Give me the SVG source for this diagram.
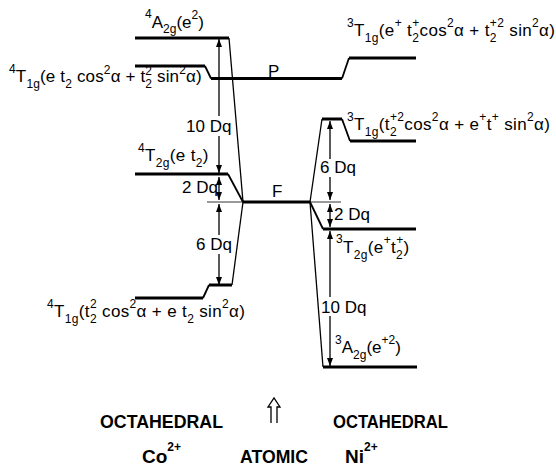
<svg xmlns="http://www.w3.org/2000/svg" width="556" height="472" viewBox="0 0 556 472">
<defs>
<style>
text{font-family:"Liberation Sans",Arial,sans-serif;fill:#000}
.m{font-size:17px}
.w{letter-spacing:0.35px}
.s{font-size:12px}
.dq{font-size:17px}
.b{font-size:19px;font-weight:bold}
.bs{font-size:12px;font-weight:bold}
.lv{stroke:#000;stroke-width:3;fill:none;stroke-linejoin:round}
.sl{stroke:#000;stroke-width:1.8;fill:none}
.cn{stroke:#000;stroke-width:1.3;fill:none}
.ar{stroke:#000;stroke-width:1.3;fill:none;marker-end:url(#ah)}
.ar2{stroke:#000;stroke-width:1.3;fill:none;marker-end:url(#ah);marker-start:url(#ahs)}
.th{stroke:#000;stroke-width:0.8;fill:none}
</style>
<marker id="ah" viewBox="0 0 8 6" refX="8" refY="3" markerWidth="8" markerHeight="6" markerUnits="userSpaceOnUse" orient="auto"><path d="M0,0 L8,3 L0,6 z" fill="#000"/></marker>
<marker id="ahs" viewBox="0 0 8 6" refX="8" refY="3" markerWidth="8" markerHeight="6" markerUnits="userSpaceOnUse" orient="auto-start-reverse"><path d="M0,0 L8,3 L0,6 z" fill="#000"/></marker>
</defs>
<rect width="556" height="472" fill="#fff"/>

<g id="co-4A2g">
<path class="lv" d="M135,38 H229"/>
<text class="m" x="145" y="28"><tspan class="s" y="18">4</tspan><tspan y="28">A</tspan><tspan class="s" y="33">2g</tspan><tspan y="28">(e</tspan><tspan class="s" y="19">2</tspan><tspan y="28">)</tspan></text>
</g>

<g id="co-4T1gP">
<path class="lv" d="M135,66 H205"/>
<path class="sl" d="M205,66 L211,78.5"/>
<text class="m" x="9" y="82" style="letter-spacing:0.15px"><tspan class="s" y="73">4</tspan><tspan y="82">T</tspan><tspan class="s" y="88">1g</tspan><tspan y="82">(e t</tspan><tspan class="s" y="88">2</tspan><tspan y="82"> cos</tspan><tspan class="s" y="74">2</tspan><tspan y="82">α + t</tspan><tspan class="s" y="88">2</tspan><tspan class="s" dx="-6.8" y="75">2</tspan><tspan y="82"> sin</tspan><tspan class="s" y="74">2</tspan><tspan y="82">α)</tspan></text>
</g>

<g id="atomic-P">
<path class="lv" d="M211,78.5 H342"/>
<text class="m" x="268" y="77">P</text>
</g>

<g id="ni-3T1gP">
<path class="sl" d="M342,78.5 L349,58"/>
<path class="lv" d="M349,58 H416"/>
<text class="m w" x="347" y="36"><tspan class="s" y="27">3</tspan><tspan y="36">T</tspan><tspan class="s" y="42">1g</tspan><tspan y="36">(e</tspan><tspan class="s" y="27">+</tspan><tspan y="36"> t</tspan><tspan class="s" y="42">2</tspan><tspan class="s" dx="-7" y="27">+</tspan><tspan y="36">cos</tspan><tspan class="s" y="27">2</tspan><tspan y="36">α + t</tspan><tspan class="s" y="42">2</tspan><tspan class="s" dx="-7" y="27">+2</tspan><tspan y="36"> sin</tspan><tspan class="s" y="27">2</tspan><tspan y="36">α)</tspan></text>
</g>

<g id="co-4T2g">
<path class="lv" d="M135,174 H228"/>
<path class="sl" d="M228,174 L243,202"/>
<text class="m w" x="138" y="161"><tspan class="s" y="152">4</tspan><tspan y="161">T</tspan><tspan class="s" y="167">2g</tspan><tspan y="161">(e t</tspan><tspan class="s" y="167">2</tspan><tspan y="161">)</tspan></text>
</g>

<g id="atomic-F">
<path class="lv" d="M243,202 H310"/>
<text class="m" x="272" y="197">F</text>
</g>

<g id="co-4T1gF">
<path class="lv" d="M135,298 H203"/>
<path class="sl" d="M203,298 L209,285"/>
<path class="lv" d="M209,285 H232"/>
<text class="m w" x="47" y="317"><tspan class="s" y="308">4</tspan><tspan y="317">T</tspan><tspan class="s" y="323">1g</tspan><tspan y="317">(t</tspan><tspan class="s" y="323">2</tspan><tspan class="s" dx="-7" y="308">2</tspan><tspan y="317"> cos</tspan><tspan class="s" y="308">2</tspan><tspan y="317">α + e t</tspan><tspan class="s" y="323">2</tspan><tspan y="317"> sin</tspan><tspan class="s" y="308">2</tspan><tspan y="317">α)</tspan></text>
</g>

<g id="ni-3T1gF">
<path class="lv" d="M322,119 H342"/>
<path class="sl" d="M342,119 L350,141"/>
<path class="lv" d="M350,141 H416"/>
<text class="m w" x="347" y="130"><tspan class="s" y="121">3</tspan><tspan y="130">T</tspan><tspan class="s" y="136">1g</tspan><tspan y="130">(t</tspan><tspan class="s" y="136">2</tspan><tspan class="s" dx="-7" y="121">+2</tspan><tspan y="130">cos</tspan><tspan class="s" y="121">2</tspan><tspan y="130">α + e</tspan><tspan class="s" y="121">+</tspan><tspan y="130">t</tspan><tspan class="s" y="121">+</tspan><tspan y="130"> sin</tspan><tspan class="s" y="121">2</tspan><tspan y="130">α)</tspan></text>
</g>

<g id="ni-3T2g">
<path class="sl" d="M310,202 L323,229"/>
<path class="lv" d="M323,229 H416"/>
<text class="m w" x="336" y="253"><tspan class="s" y="243">3</tspan><tspan y="253">T</tspan><tspan class="s" y="259">2g</tspan><tspan y="253">(e</tspan><tspan class="s" y="244">+</tspan><tspan y="253">t</tspan><tspan class="s" y="259">2</tspan><tspan class="s" dx="-7" y="244">+</tspan><tspan y="253">)</tspan></text>
</g>

<g id="ni-3A2g">
<path class="lv" d="M323,367 H417"/>
<text class="m" x="335" y="353"><tspan class="s" y="344">3</tspan><tspan y="353">A</tspan><tspan class="s" y="359">2g</tspan><tspan y="353">(e</tspan><tspan class="s" y="344">+2</tspan><tspan y="353">)</tspan></text>
</g>

<g id="connectors">
<path class="cn" d="M229,38 L243,202"/>
<path class="cn" d="M232,285 L243,202"/>
<path class="cn" d="M310,202 L322,119"/>
<path class="cn" d="M310,202 L323,367"/>
<path class="th" d="M207,202 H243"/>
<path class="th" d="M310,202 H341"/>
<path class="ar" d="M219,116 V39"/>
<path class="ar" d="M219,136 V173"/>
<path class="ar2" d="M219,177 V200"/>
<path class="ar" d="M219,235 V204"/>
<path class="ar" d="M219,254 V285"/>
<path class="ar" d="M330,159 V121"/>
<path class="ar" d="M330,177 V200"/>
<path class="ar2" d="M330,204 V227"/>
<path class="ar" d="M330,297 V231"/>
<path class="ar" d="M330,316 V366"/>
<path d="M271,423 V407 H268 L274,398 L280,407 H277 V423" fill="none" stroke="#000" stroke-width="1.3"/>
</g>

<g id="dq-labels">
<text class="dq" x="186" y="132">10 Dq</text>
<text class="dq" x="182" y="193">2 Dq</text>
<text class="dq" x="196" y="250">6 Dq</text>
<text class="dq" x="320" y="173">6 Dq</text>
<text class="dq" x="334" y="220">2 Dq</text>
<text class="dq" x="321" y="313">10 Dq</text>
</g>

<g id="captions">
<text class="b" x="100" y="428" textLength="123" lengthAdjust="spacingAndGlyphs">OCTAHEDRAL</text>
<text class="b" x="142" y="463">Co<tspan class="bs" y="451">2+</tspan></text>
<text class="b" x="240" y="463" textLength="68" lengthAdjust="spacingAndGlyphs">ATOMIC</text>
<text class="b" x="333" y="428" textLength="115" lengthAdjust="spacingAndGlyphs">OCTAHEDRAL</text>
<text class="b" x="345" y="463">Ni<tspan class="bs" y="451">2+</tspan></text>
</g>
</svg>
